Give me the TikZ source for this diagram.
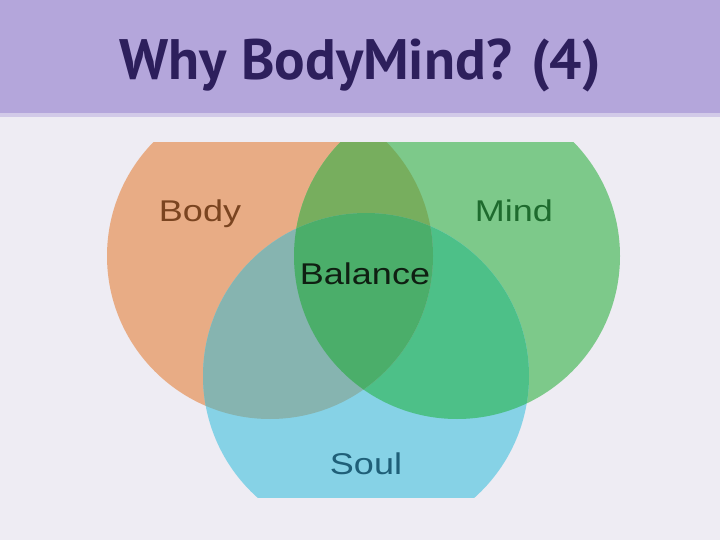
\documentclass[tikz,border=0pt]{standalone}
\usepackage{fontspec}
\setmainfont{Liberation Sans}
\newfontfamily\titlefont{PT Sans}
\newfontfamily\vennfont[FakeStretch=1.2]{Liberation Sans}
\definecolor{bg}{HTML}{EEECF3}
\definecolor{bar}{HTML}{B4A6DB}
\definecolor{barline}{HTML}{D2CAE8}
\definecolor{titlecol}{HTML}{2D1F5C}
\definecolor{bodyc}{HTML}{E8AC85}
\definecolor{mindc}{HTML}{7DC98A}
\definecolor{soulc}{HTML}{86D2E6}
\definecolor{bmc}{HTML}{77AE5E}
\definecolor{bsc}{HTML}{86B4B0}
\definecolor{msc}{HTML}{4DC088}
\definecolor{allc}{HTML}{4BAE6A}
\definecolor{bodyt}{HTML}{7A4420}
\definecolor{mindt}{HTML}{1E6B2E}
\definecolor{soult}{HTML}{1F5F78}
\definecolor{balt}{HTML}{0F1F12}
\begin{document}
\begin{tikzpicture}[x=1pt,y=-1pt,
  vlabel/.style={anchor=base,inner sep=0pt,font=\vennfont\fontsize{30}{30}\selectfont},
  titlestyle/.style={anchor=base,inner sep=0pt,text=titlecol,font=\titlefont\bfseries\fontsize{57}{57}\selectfont}]
\useasboundingbox (0,0) rectangle (720,540);
\fill[bg] (0,0) rectangle (720,540);
\fill[bar] (0,0) rectangle (720,114);
\fill[barline] (0,113) rectangle (720,117);
\node[titlestyle] (title) at (360,80) {Why BodyMind? (4)};
\begin{scope}
  \clip (0,143) rectangle (720,497);
  \fill[bodyc] (270,256) circle[radius=163pt];
  \fill[mindc] (457,256) circle[radius=163pt];
  \fill[soulc] (366,376) circle[radius=163pt];
  \begin{scope}
    \clip (457,256) circle[radius=163pt];
    \fill[msc] (366,376) circle[radius=163pt];
  \end{scope}
  \begin{scope}
    \clip (270,256) circle[radius=163pt];
    \fill[bmc] (457,256) circle[radius=163pt];
    \fill[bsc] (366,376) circle[radius=163pt];
    \clip (457,256) circle[radius=163pt];
    \fill[allc] (366,376) circle[radius=163pt];
  \end{scope}
\end{scope}
\node[vlabel,text=bodyt] (body) at (200,222) {Body};
\node[vlabel,text=mindt] (mind) at (514,222) {Mind};
\node[vlabel,text=balt] (balance) at (365,284) {Balance};
\node[vlabel,text=soult] (soul) at (366,474) {Soul};
\end{tikzpicture}
\end{document}
